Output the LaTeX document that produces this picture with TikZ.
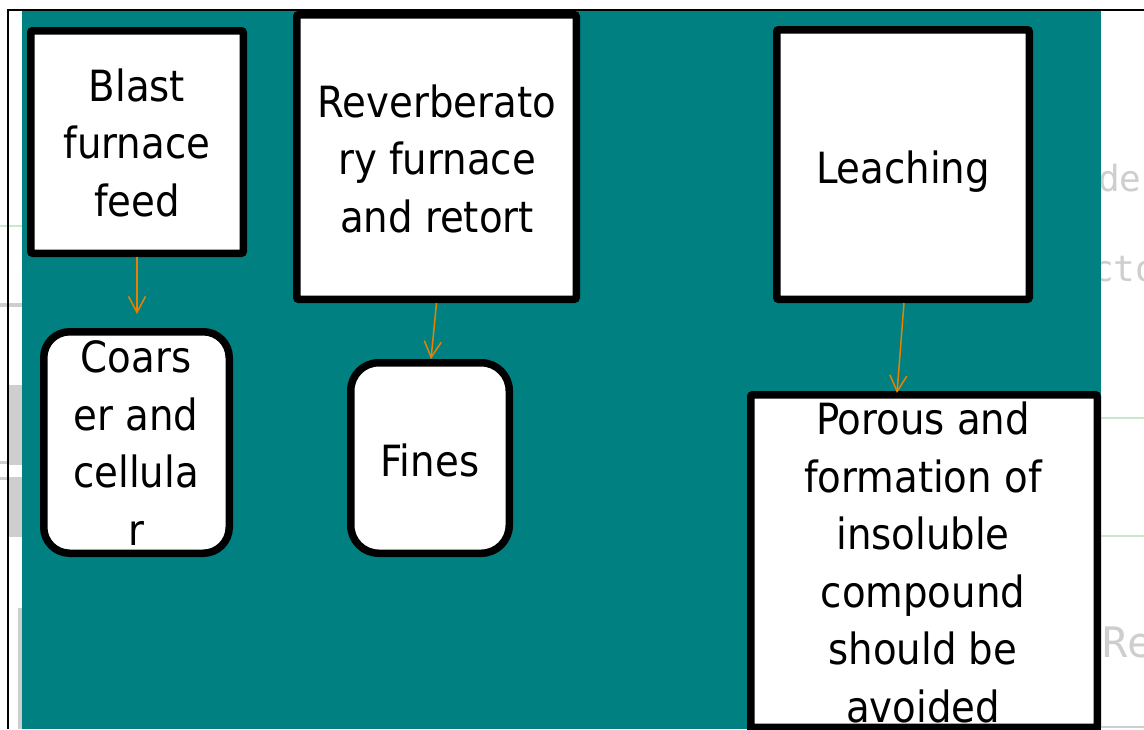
\documentclass[tikz,border=0pt]{standalone}
\usepackage{fontspec}
\setmainfont{DejaVu Sans Condensed}
\newfontfamily\faintfont{DejaVu Sans Mono}
\usetikzlibrary{arrows.meta}
\definecolor{tealbg}{RGB}{0,128,128}
\definecolor{arrowc}{RGB}{232,128,0}
\definecolor{faintgray}{RGB}{206,206,206}
\definecolor{faintgreen}{RGB}{204,232,204}
\begin{document}
\begin{tikzpicture}[x=1pt,y=-1pt,
  sqbox/.style={draw=black, line width=7.5pt, fill=white, rounded corners=2pt, inner sep=0pt},
  rdbox/.style={draw=black, line width=7.5pt, fill=white, rounded corners=26pt, inner sep=0pt},
  boxtext/.style={align=center, inner sep=0pt, text=black, font=\fontsize{43}{57.5}\selectfont},
  arrowline/.style={draw=arrowc, line width=1.5pt, -{Straight Barb[length=16pt,width=17pt]}},
  fainttext/.style={inner sep=0pt, text=faintgray, font=\faintfont\fontsize{36}{40}\selectfont},
  faintline/.style={line width=2pt}]
\useasboundingbox (0,0) rectangle (1144,729);
\clip (0,0) rectangle (1144,729);
\fill[white] (0,0) rectangle (1144,729);
% faint background remnants
\draw[faintline, faintgreen] (0,226) -- (22,226);
\draw[faintgray, line width=4pt] (0,305) -- (22,305);
\fill[faintgray] (7,385) rectangle (22,465);
\draw[faintgray, line width=3pt] (0,462) -- (22,462);
\draw[faintgray, line width=3pt] (0,478) -- (22,478);
\fill[faintgray] (7,477) rectangle (22,537);
\fill[faintgray] (18,608) rectangle (22,729);
\node[fainttext, anchor=base west] (fde) at (1098,191) {de};
\node[fainttext, anchor=base west] (fcto) at (1092,281) {cto};
\node[fainttext, anchor=base west, font=\faintfont\fontsize{42}{46}\selectfont] (fre) at (1102,657) {Re};
\draw[faintline, faintgreen] (1101,418) -- (1144,418);
\draw[faintline, faintgreen] (1101,536) -- (1144,536);
\draw[faintline, faintgray] (1101,727) -- (1144,727);
% teal panel and frame
\fill[tealbg] (22,11) rectangle (1101,729);
\draw[black, line width=2pt] (8,729) -- (8,10) -- (1144,10);
% boxes
\node[sqbox, minimum width=212.5pt, minimum height=222.5pt] (blast) at (137,142) {};
\node[sqbox, minimum width=279.5pt, minimum height=284.5pt] (reverb) at (436.5,157) {};
\node[sqbox, minimum width=252.5pt, minimum height=269.5pt] (leach) at (903,164.5) {};
\node[rdbox, minimum width=185.5pt, minimum height=221.5pt] (coarser) at (136.5,442.5) {};
\node[rdbox, rounded corners=28pt, minimum width=158.5pt, minimum height=190.5pt] (fines) at (430,458) {};
\node[sqbox, minimum width=346.5pt, minimum height=332.5pt] (porous) at (924,561) {};
% texts
\node[boxtext] (blasttext) at (137,142.6) {Blast\\furnace\\feed};
\node[boxtext] (reverbtext) at (437,158.6) {Reverberato\\ry furnace\\and retort};
\node[boxtext] (leachtext) at (903,171.7) {Leaching};
\node[boxtext] (coarsertext) at (136,443.2) {Coars\\er and\\cellula\\r};
\node[boxtext] (finestext) at (430,460.6) {Fines};
\node[boxtext] (poroustext) at (923,562.4) {Porous and\\formation of\\insoluble\\compound\\should be\\avoided};
% bottom border of the porous box drawn over its clipped text
\draw[black, line width=7.5pt] ([yshift=3.75pt]porous.south west) -- ([yshift=3.75pt]porous.south east);
% connectors
\draw[arrowline] (blast.south) -- ([xshift=0.5pt,yshift=14pt]coarser.north);
\draw[arrowline] (reverb.south) -- ([xshift=1pt]fines.north);
\draw[arrowline] ([xshift=1pt]leach.south) -- ([xshift=-27pt,yshift=-2pt]porous.north);
\end{tikzpicture}
\end{document}
